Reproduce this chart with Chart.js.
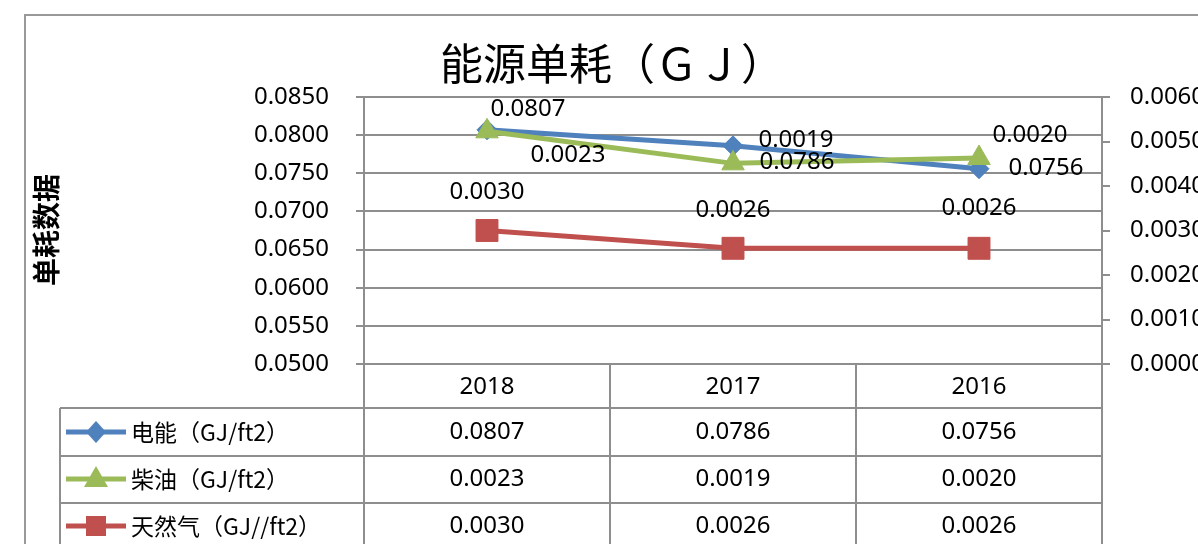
<!DOCTYPE html>
<html>
<head>
<meta charset="utf-8">
<script src="https://cdn.jsdelivr.net/npm/chart.js@4.4.0/dist/chart.umd.min.js"></script>
<style>
  html, body { margin: 0; background: #fff; overflow: hidden; }
</style>
</head>
<body>
<canvas id="chart" width="1198" height="544"></canvas>
<script>
// data
const years = ['2018', '2017', '2016'];
const seriesNames = ['电能（GJ/ft2）', '柴油（GJ/ft2）', '天然气（GJ//ft2）'];
const electric = [0.0807, 0.0786, 0.0756];
const diesel = [0.0023, 0.0019, 0.0020];
// where the green marks actually sit in the picture (read on the left axis)
const dieselPlotted = [0.0805, 0.0763, 0.0770];
const gas = [0.0030, 0.0026, 0.0026];
const leftTicks = [0.0500, 0.0550, 0.0600, 0.0650, 0.0700, 0.0750, 0.0800, 0.0850];
const rightTicks = [0.0000, 0.0010, 0.0020, 0.0030, 0.0040, 0.0050, 0.0060];

const BLUE = '#4F81BD', GREEN = '#9BBB59', RED = '#C0504D';
const GRID = '#8e8e8e';
const NUM_FONT = '24px "Noto Sans", "Open Sans", sans-serif';
const CJK = '"Noto Sans CJK SC", sans-serif';

// label offsets from each point (px), per series
const labelOffsets = [
  [[41, -21], [64, 16], [67, -1]],
  [[81, 24], [63, -23], [51, -23]],
  [[0, -38], [0, -38], [0, -40]]
];
const labelValues = [electric, diesel, gas];

function marker(ctx, style, x, y, color) {
  ctx.save();
  ctx.fillStyle = color;
  ctx.beginPath();
  if (style === 'rectRot') {
    ctx.moveTo(x - 10, y); ctx.lineTo(x, y - 11); ctx.lineTo(x + 10, y); ctx.lineTo(x, y + 11);
  } else if (style === 'triangle') {
    ctx.moveTo(x, y - 13); ctx.lineTo(x + 12, y + 8); ctx.lineTo(x - 12, y + 8);
  } else {
    ctx.rect(x - 10, y - 10, 20, 20);
  }
  ctx.closePath();
  ctx.fill();
  ctx.restore();
}

const decorPlugin = {
  id: 'decor',
  beforeDraw(chart) {
    const ctx = chart.ctx;
    ctx.save();
    ctx.fillStyle = '#fff';
    ctx.fillRect(0, 0, chart.width, chart.height);
    ctx.strokeStyle = '#999';
    ctx.lineWidth = 2;
    ctx.strokeRect(25, 15, 1300, 700);
    ctx.restore();
  },
  afterDatasetsDraw(chart) {
    const ctx = chart.ctx;
    ctx.save();
    ctx.font = NUM_FONT;
    ctx.fillStyle = '#000';
    ctx.textAlign = 'center';
    ctx.textBaseline = 'middle';
    chart.data.datasets.forEach((ds, i) => {
      const meta = chart.getDatasetMeta(i);
      meta.data.forEach((pt, j) => {
        const off = labelOffsets[i][j];
        ctx.fillText(labelValues[i][j].toFixed(4), pt.x + off[0], pt.y + off[1]);
      });
    });
    ctx.restore();
  },
  afterDraw(chart) {
    const ctx = chart.ctx;
    const xs = chart.scales.x;
    const area = chart.chartArea;
    ctx.save();
    // title
    ctx.fillStyle = '#000';
    ctx.font = '43px ' + CJK;
    ctx.textAlign = 'center';
    ctx.textBaseline = 'middle';
    ctx.fillText('能源单耗（ＧＪ）', 612, 64);
    // y axis title
    ctx.save();
    ctx.translate(46, 230);
    ctx.rotate(-Math.PI / 2);
    ctx.font = 'bold 28px ' + CJK;
    ctx.fillText('单耗数据', 0, 0);
    ctx.restore();

    // data table
    const colW = (area.right - area.left) / years.length;
    const rows = [area.bottom, 408, 456, 503, 560];
    ctx.strokeStyle = GRID;
    ctx.lineWidth = 2;
    ctx.beginPath();
    for (let k = 0; k <= years.length; k++) {
      const x = area.left + k * colW;
      ctx.moveTo(x, area.bottom); ctx.lineTo(x, 560);
    }
    ctx.moveTo(60, rows[1]); ctx.lineTo(60, 560);
    for (let r = 1; r < 4; r++) {
      ctx.moveTo(60, rows[r]); ctx.lineTo(area.right, rows[r]);
    }
    ctx.stroke();

    ctx.font = NUM_FONT;
    ctx.textAlign = 'center';
    years.forEach((y, j) => {
      ctx.fillText(y, xs.getPixelForValue(j), 387);
    });
    const tableRows = [electric, diesel, gas];
    const rowY = [432, 479, 526];
    const styles = ['rectRot', 'triangle', 'rect'];
    const colors = [BLUE, GREEN, RED];
    tableRows.forEach((vals, i) => {
      vals.forEach((v, j) => {
        ctx.fillText(v.toFixed(4), xs.getPixelForValue(j), rowY[i]);
      });
      ctx.strokeStyle = colors[i];
      ctx.lineWidth = 5;
      ctx.beginPath();
      ctx.moveTo(66, rowY[i]); ctx.lineTo(126, rowY[i]);
      ctx.stroke();
      marker(ctx, styles[i], 96, rowY[i], colors[i]);
      ctx.save();
      ctx.textAlign = 'left';
      ctx.font = '23px ' + CJK;
      ctx.fillStyle = '#000';
      ctx.fillText(seriesNames[i], 131, rowY[i]);
      ctx.restore();
    });
    ctx.restore();
  }
};

new Chart(document.getElementById('chart'), {
  type: 'line',
  data: {
    labels: years,
    datasets: [
      {
        label: seriesNames[0],
        data: electric,
        yAxisID: 'y',
        borderColor: BLUE,
        backgroundColor: BLUE,
        borderWidth: 5,
        pointStyle: 'rectRot',
        pointRadius: 10,
        pointBorderWidth: 1,
        order: 1
      },
      {
        label: seriesNames[1],
        data: dieselPlotted,
        yAxisID: 'y',
        borderColor: GREEN,
        backgroundColor: GREEN,
        borderWidth: 5,
        pointStyle: 'triangle',
        pointRadius: 13,
        pointBorderWidth: 1,
        order: 0
      },
      {
        label: seriesNames[2],
        data: gas,
        yAxisID: 'y1',
        borderColor: RED,
        backgroundColor: RED,
        borderWidth: 5,
        pointStyle: 'rect',
        pointRadius: 15.5,
        pointBorderWidth: 1,
        order: 2
      }
    ]
  },
  options: {
    responsive: false,
    animation: false,
    layout: { padding: { left: 0, right: 0, top: 97, bottom: 180 } },
    plugins: {
      legend: { display: false },
      tooltip: { enabled: false }
    },
    scales: {
      x: {
        display: false,
        offset: true
      },
      y: {
        position: 'left',
        min: 0.05,
        max: 0.085,
        afterBuildTicks: s => { s.ticks = leftTicks.map(v => ({ value: v })); },
        afterFit: s => { s.width = 364; },
        ticks: {
          padding: 27,
          color: '#000',
          font: { family: '"Noto Sans", sans-serif', size: 24 },
          callback: v => v.toFixed(4)
        },
        grid: { color: GRID, lineWidth: 2, tickLength: 8 },
        border: { color: GRID, width: 2 }
      },
      y1: {
        position: 'right',
        min: 0,
        max: 0.006,
        afterBuildTicks: s => { s.ticks = rightTicks.map(v => ({ value: v })); },
        afterFit: s => { s.width = 96; },
        ticks: {
          padding: 20,
          color: '#000',
          font: { family: '"Noto Sans", sans-serif', size: 24 },
          callback: v => v.toFixed(4)
        },
        grid: { drawOnChartArea: false, color: GRID, lineWidth: 2, tickLength: 8 },
        border: { color: GRID, width: 2 }
      }
    }
  },
  plugins: [decorPlugin]
});
</script>
</body>
</html>
